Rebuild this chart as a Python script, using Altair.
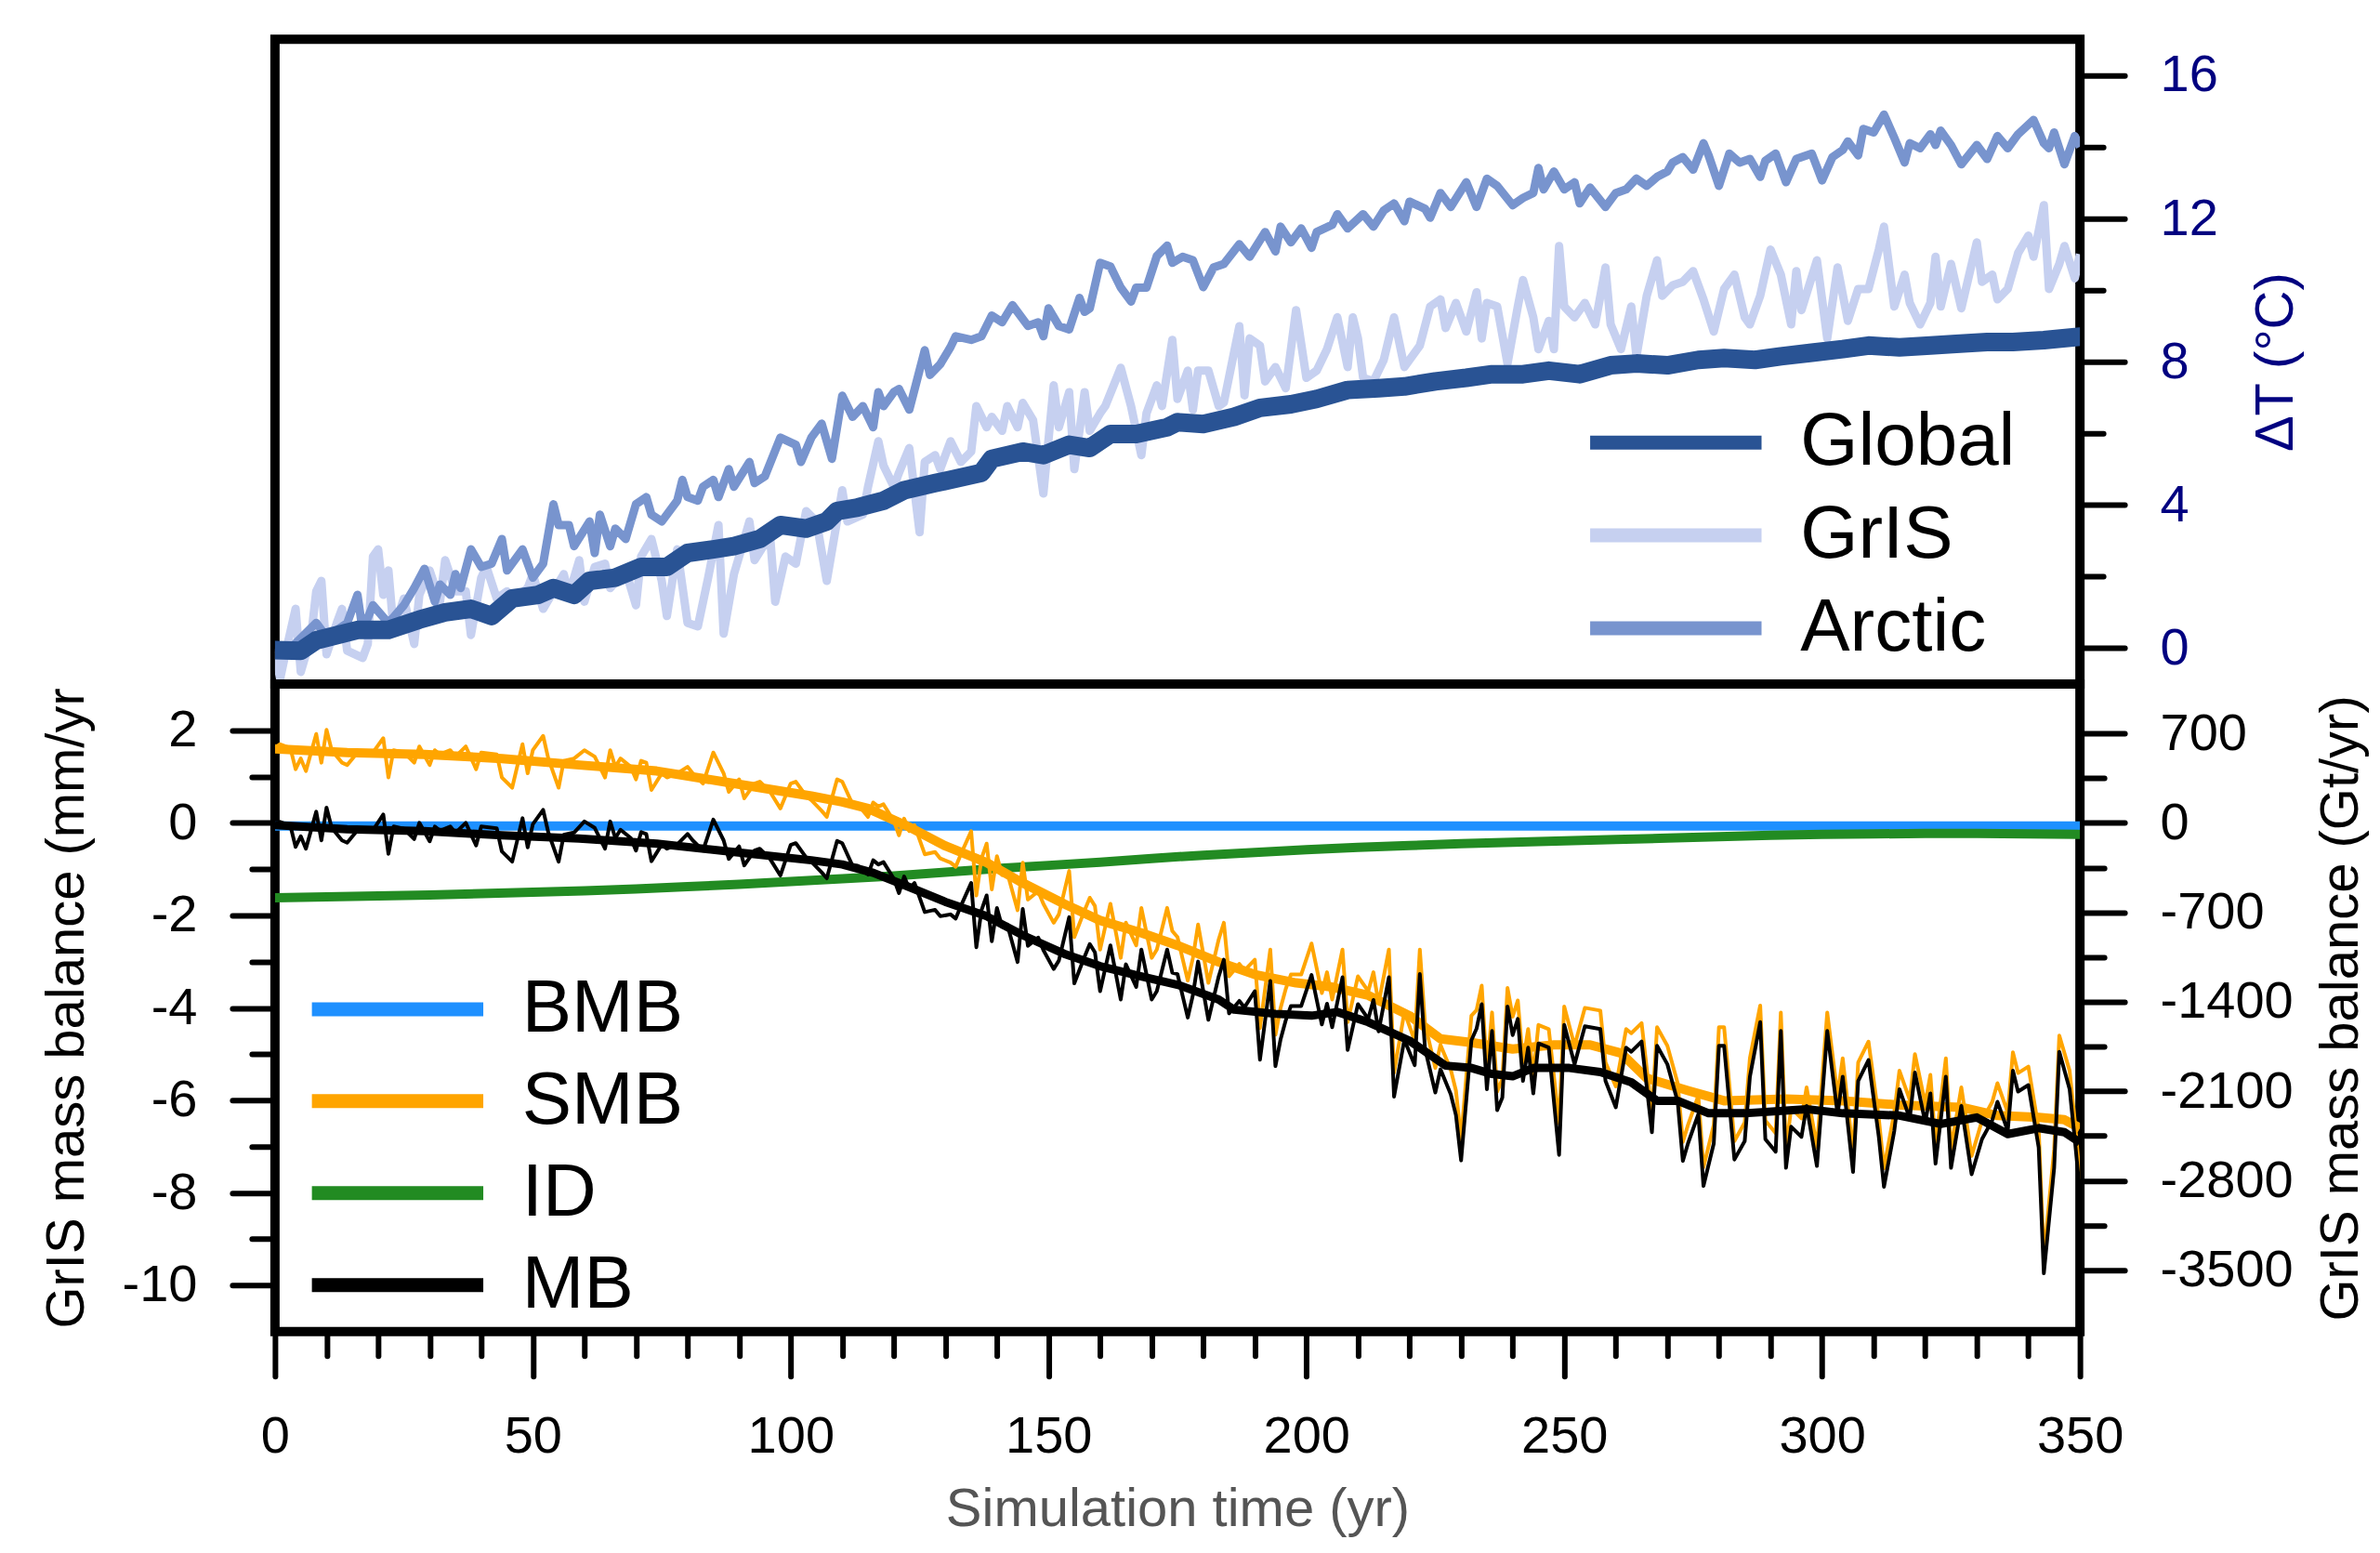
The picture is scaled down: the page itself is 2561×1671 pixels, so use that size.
import altair as alt
import pandas as pd

FONT = "Liberation Sans, Arial, Helvetica, sans-serif"

# ---------------- top panel: temperature anomalies (deg C) ----------------
global_years = [0, 5, 8, 16, 22, 28, 33, 38, 42, 46, 51, 54, 58, 61, 66, 71, 76, 80, 85, 89,
                94, 98, 103, 107, 109, 113, 118, 122, 128, 134, 137, 139, 145, 149, 154, 158,
                162, 167, 173, 175, 180, 186, 191, 197, 202, 208, 214, 219, 225, 231, 236, 242,
                247, 253, 259, 264, 270, 276, 281, 287, 292, 298, 304, 309, 315, 321, 326, 332,
                337, 343, 350]
global_vals = [-0.05, -0.07, 0.22, 0.51, 0.51, 0.8, 1.0, 1.1, 0.9, 1.39, 1.49, 1.68, 1.49, 1.88,
               1.97, 2.27, 2.27, 2.66, 2.76, 2.85, 3.05, 3.44, 3.34, 3.54, 3.83, 3.93, 4.12, 4.41,
               4.61, 4.8, 4.9, 5.29, 5.49, 5.39, 5.68, 5.59, 5.98, 5.98, 6.17, 6.31, 6.26, 6.46,
               6.71, 6.81, 6.96, 7.21, 7.26, 7.31, 7.45, 7.55, 7.65, 7.65, 7.75, 7.65, 7.9, 7.95,
               7.9, 8.05, 8.1, 8.05, 8.15, 8.25, 8.35, 8.45, 8.4, 8.45, 8.5, 8.55, 8.55, 8.6, 8.7]

gris_years = [0, 1, 2, 4, 5, 7, 8, 9, 10, 12, 13, 14, 17, 18, 19, 20, 21, 22, 23, 25, 27, 28, 30,
              32, 33, 35, 37, 38, 40, 41, 43, 45, 46, 49, 50, 52, 54, 56, 57, 59, 60, 62, 64, 65,
              68, 70, 71, 73, 75, 76, 78, 80, 82, 84, 86, 87, 89, 91, 92, 93, 96, 97, 99, 101,
              103, 105, 107, 110, 111, 114, 115, 117, 118, 120, 121, 123, 125, 126, 128, 129,
              131, 133, 135, 136, 138, 139, 141, 142, 144, 145, 147, 149, 151, 152, 154, 155,
              157, 158, 160, 161, 164, 166, 168, 169, 171, 172, 174, 175, 177, 178, 179, 181,
              183, 184, 187, 188, 189, 191, 192, 194, 196, 198, 200, 202, 204, 206, 208, 209,
              210, 211, 213, 215, 217, 219, 222, 224, 226, 227, 229, 231, 233, 234, 235, 237,
              239, 241, 242, 244, 245, 247, 248, 249, 250, 252, 254, 256, 258, 259, 261, 263,
              264, 266, 268, 269, 271, 273, 275, 277, 279, 281, 283, 285, 286, 288, 290, 292,
              294, 295, 296, 299, 301, 303, 305, 307, 309, 311, 312, 314, 316, 317, 319, 321,
              322, 323, 325, 327, 330, 331, 333, 334, 336, 338, 340, 341, 343, 344, 346, 347,
              349, 350]
gris_vals = [-0.1, -0.85, -0.17, 1.1, -0.66, 0.32, 1.59, 1.88, -0.17, 0.71, 1.1, -0.07, -0.27,
             0.12, 2.56, 2.76, 1.49, 2.17, 0.51, 1.39, 0.12, 1.49, 2.17, 1.3, 2.46, 1.59, 1.59,
             0.37, 1.97, 2.27, 1.39, 1.59, 1.3, 1.68, 2.07, 1.1, 1.59, 2.07, 1.49, 2.46, 1.3, 2.27,
             2.36, 1.68, 2.17, 1.2, 2.56, 3.05, 1.88, 0.9, 2.76, 0.71, 0.61, 1.97, 3.44, 0.41,
             2.07, 3.05, 3.54, 2.46, 3.15, 1.3, 2.56, 2.36, 3.83, 3.54, 1.88, 4.41, 3.54, 3.73,
             4.51, 5.78, 5.1, 4.51, 4.9, 5.59, 3.24, 5.2, 5.39, 5.0, 5.78, 5.2, 5.49, 6.76, 6.17,
             6.46, 6.07, 6.76, 6.17, 6.85, 6.37, 4.32, 7.34, 6.17, 7.15, 5.0, 7.15, 6.07, 6.56,
             6.76, 7.83, 6.76, 5.39, 6.56, 7.34, 6.76, 8.61, 6.96, 7.75, 6.66, 7.75, 7.75, 6.76,
             6.86, 8.99, 7.06, 8.65, 8.45, 7.45, 7.85, 7.26, 9.44, 7.55, 7.75, 8.35, 9.24, 7.85,
             9.24, 8.65, 7.55, 7.45, 8.05, 9.24, 7.85, 8.45, 9.54, 9.74, 8.94, 9.64, 8.84, 9.94,
             8.65, 9.64, 9.54, 7.95, 9.54, 10.28, 9.24, 8.35, 9.14, 8.35, 11.23, 9.54, 9.24, 9.64,
             9.04, 10.63, 9.04, 8.35, 9.54, 8.15, 9.84, 10.83, 9.84, 10.13, 10.23, 10.53, 9.74,
             8.84, 10.03, 10.43, 9.24, 9.04, 9.84, 11.13, 10.43, 9.04, 10.53, 9.44, 10.83, 8.65,
             10.63, 9.14, 10.03, 10.03, 11.13, 11.77, 9.54, 10.43, 9.64, 9.04, 9.64, 10.93, 9.54,
             10.73, 9.49, 11.33, 10.23, 10.43, 9.74, 10.03, 11.03, 11.52, 10.93, 12.37, 10.03,
             10.73, 11.23, 10.33, 11.0]

arctic_years = [0, 2, 8, 10, 14, 16, 17, 19, 22, 25, 27, 29, 31, 32, 34, 35, 36, 38, 40, 42, 44,
                45, 48, 50, 52, 54, 55, 57, 58, 61, 62, 63, 65, 66, 68, 70, 72, 73, 75, 78, 79,
                80, 82, 83, 85, 86, 88, 89, 92, 93, 95, 98, 101, 102, 104, 106, 108, 110, 112,
                114, 116, 117, 118, 120, 121, 123, 126, 127, 129, 131, 132, 135, 137, 139, 141,
                143, 146, 148, 149, 150, 152, 154, 156, 157, 158, 160, 162, 164, 166, 167, 169,
                171, 173, 174, 176, 178, 180, 182, 184, 187, 189, 192, 194, 195, 197, 199, 201,
                202, 205, 206, 208, 211, 213, 215, 217, 219, 220, 223, 224, 226, 228, 231, 233,
                235, 237, 240, 242, 244, 245, 246, 248, 250, 252, 253, 255, 258, 260, 262, 264,
                266, 268, 270, 271, 273, 275, 277, 278, 280, 282, 284, 286, 288, 289, 291, 293,
                295, 298, 300, 302, 304, 305, 307, 308, 310, 312, 314, 316, 317, 319, 321, 322,
                323, 325, 327, 330, 332, 334, 336, 338, 341, 343, 344, 345, 347, 349, 350]
arctic_vals = [0.0, -0.15, 0.71, 0.32, 0.7, 1.49, 0.5, 1.2, 0.7, 1.2, 1.68, 2.22, 1.3, 1.78, 1.49,
               2.07, 1.68, 2.76, 2.27, 2.36, 3.05, 2.17, 2.76, 1.97, 2.36, 4.02, 3.44, 3.44, 2.85,
               3.54, 2.66, 3.73, 2.85, 3.34, 3.05, 4.02, 4.22, 3.73, 3.54, 4.12, 4.7, 4.22, 4.12,
               4.51, 4.7, 4.22, 5.0, 4.51, 5.2, 4.61, 4.8, 5.88, 5.68, 5.2, 5.88, 6.27, 5.29, 7.05,
               6.46, 6.76, 6.17, 7.15, 6.76, 7.15, 7.24, 6.66, 8.32, 7.63, 7.93, 8.41, 8.71, 8.61,
               8.71, 9.29, 9.1, 9.58, 9.0, 9.1, 8.71, 9.49, 9.0, 8.9, 9.78, 9.39, 9.49, 10.76,
               10.66, 10.07, 9.68, 10.07, 10.07, 10.95, 11.24, 10.76, 10.93, 10.83, 10.08, 10.63,
               10.73, 11.28, 10.93, 11.62, 11.08, 11.77, 11.33, 11.72, 11.18, 11.62, 11.82, 12.12,
               11.72, 12.12, 11.77, 12.22, 12.42, 11.92, 12.47, 12.27, 12.02, 12.71, 12.32, 13.01,
               12.32, 13.11, 12.91, 12.37, 12.57, 12.71, 13.41, 12.81, 13.31, 12.81, 13.01, 12.42,
               12.86, 12.32, 12.71, 12.81, 13.11, 12.91, 13.16, 13.31, 13.56, 13.71, 13.36, 14.1,
               13.76, 12.91, 13.81, 13.56, 13.66, 13.16, 13.61, 13.81, 13.01, 13.66, 13.81, 13.06,
               13.71, 13.91, 14.15, 13.76, 14.5, 14.4, 14.9, 14.25, 13.56, 14.1, 13.96, 14.35,
               14.05, 14.45, 14.05, 13.51, 14.05, 13.66, 14.3, 13.96, 14.35, 14.75, 14.1, 13.96,
               14.4, 13.51, 14.3, 14.0]

# ---------------- bottom panel: mass balance (mm/yr) ----------------
bmb_years = [0, 50, 100, 150, 200, 250, 300, 350]
bmb_vals = [-0.07, -0.07, -0.07, -0.07, -0.07, -0.07, -0.07, -0.07]

id_years = [0, 10, 20, 30, 40, 50, 60, 70, 80, 90, 100, 110, 120, 130, 140, 150, 160, 170, 180,
            190, 200, 210, 220, 230, 240, 250, 260, 270, 280, 290, 300, 310, 320, 330, 340, 350]
id_vals = [-1.62, -1.6, -1.58, -1.56, -1.53, -1.5, -1.47, -1.43, -1.38, -1.33, -1.27, -1.21,
           -1.15, -1.07, -0.99, -0.92, -0.85, -0.77, -0.7, -0.64, -0.58, -0.53, -0.49, -0.45,
           -0.42, -0.39, -0.36, -0.33, -0.3, -0.27, -0.25, -0.24, -0.23, -0.23, -0.24, -0.25]

smb_years = [0, 14, 29, 44, 59, 74, 89, 104, 110, 115, 123, 130, 138, 145, 153, 160, 168, 175,
             183, 190, 198, 205, 212, 220, 226, 232, 240, 248, 255, 261, 266, 274, 281, 293, 304,
             315, 327, 334, 342, 347, 350]
smb_vals = [1.6, 1.52, 1.48, 1.39, 1.25, 1.12, 0.85, 0.58, 0.45, 0.31, -0.09, -0.5, -0.86, -1.3,
            -1.75, -2.11, -2.38, -2.65, -3.01, -3.28, -3.46, -3.55, -3.73, -4.17, -4.67, -4.75,
            -4.89, -4.8, -4.8, -4.98, -5.52, -5.79, -6.01, -5.97, -6.01, -6.1, -6.15, -6.33,
            -6.37, -6.42, -6.6]

mb_years = [0, 14, 29, 44, 59, 74, 89, 104, 110, 116, 123, 130, 138, 145, 153, 160, 168, 175,
            183, 186, 194, 201, 206, 212, 220, 227, 232, 236, 240, 244, 251, 257, 263, 268, 272,
            278, 285, 297, 304, 315, 323, 330, 336, 342, 347, 350]
mb_vals = [-0.05, -0.14, -0.18, -0.27, -0.34, -0.45, -0.63, -0.81, -0.9, -1.08, -1.39, -1.71,
           -2.02, -2.43, -2.83, -3.1, -3.32, -3.5, -3.82, -4.04, -4.13, -4.17, -4.09, -4.31,
           -4.71, -5.25, -5.3, -5.43, -5.48, -5.3, -5.3, -5.39, -5.61, -6.01, -6.01, -6.28,
           -6.28, -6.19, -6.28, -6.33, -6.51, -6.37, -6.73, -6.6, -6.69, -6.91]

ann_years = [0, 1, 3, 4, 5, 6, 8, 9, 10, 11, 13, 14, 16, 19, 21, 22, 23, 25, 27, 28, 30, 31, 32,
             34, 35, 37, 39, 40, 43, 44, 46, 48, 49, 50, 52, 53, 55, 56, 58, 60, 62, 64, 65, 66,
             67, 69, 70, 71, 72, 73, 75, 76, 78, 80, 81, 83, 85, 87, 88, 90, 91, 93, 94, 96, 98,
             100, 101, 103, 104, 106, 107, 109, 110, 112, 113, 115, 116, 117, 118, 120, 121, 122,
             123, 124, 126, 128, 129, 131, 132, 133, 135, 136, 137, 138, 139, 140, 141, 142, 144,
             145, 146, 148, 149, 151, 152, 154, 155, 157, 158, 159, 160, 162, 164, 165, 167, 168,
             170, 171, 173, 174, 175, 177, 178, 179, 181, 183, 184, 185, 187, 188, 190, 191, 193,
             194, 195, 196, 197, 199, 201, 203, 204, 205, 207, 208, 210, 212, 213, 214, 216, 217,
             219, 221, 222, 223, 225, 226, 228, 229, 230, 232, 233, 234, 235, 236, 237, 238, 239,
             240, 241, 242, 243, 244, 245, 247, 249, 250, 252, 254, 257, 258, 260, 262, 263, 265,
             267, 268, 270, 272, 273, 274, 276, 277, 279, 280, 281, 283, 285, 286, 288, 289, 291,
             292, 293, 294, 296, 297, 299, 301, 303, 304, 306, 307, 309, 311, 312, 314, 315, 317,
             318, 320, 321, 322, 324, 325, 327, 329, 331, 333, 334, 336, 337, 338, 340, 342, 343,
             345, 346, 348, 349, 350]
smb_ann_vals = [1.62, 1.70, 1.61, 1.16, 1.39, 1.12, 1.92, 1.30, 2.01, 1.57, 1.30, 1.25, 1.52, 1.52,
                1.83, 0.98, 1.57, 1.52, 1.30, 1.65, 1.25, 1.57, 1.48, 1.57, 1.43, 1.65, 1.16, 1.52,
                1.48, 0.98, 0.76, 1.70, 1.07, 1.57, 1.88, 1.39, 0.76, 1.34, 1.39, 1.57, 1.43, 0.98,
                1.57, 1.21, 1.39, 1.21, 0.94, 1.34, 1.30, 0.71, 1.07, 0.98, 1.07, 1.21, 1.07, 0.85,
                1.52, 1.07, 0.67, 0.94, 0.53, 0.85, 0.89, 0.67, 0.31, 0.85, 0.89, 0.58, 0.49, 0.26,
                0.13, 0.94, 0.89, 0.40, 0.40, 0.13, 0.44, 0.35, 0.40, 0.04, -0.27, 0.09, -0.18,
                -0.05, -0.68, -0.63, -0.77, -0.86, -0.95, -0.68, -0.18, -1.57, -0.77, -0.45, -1.44,
                -0.72, -1.13, -1.08, -1.89, -0.86, -1.66, -1.48, -1.75, -2.16, -1.98, -1.04, -2.47,
                -1.89, -1.62, -1.80, -2.74, -1.75, -2.92, -2.16, -2.65, -1.84, -2.92, -2.74, -1.84,
                -2.34, -2.47, -3.41, -2.92, -2.20, -3.46, -2.52, -2.16, -3.32, -3.05, -3.19, -2.96,
                -4.44, -2.74, -4.58, -4.00, -3.59, -3.28, -3.28, -2.61, -3.68, -3.23, -3.82, -2.74,
                -4.31, -3.32, -3.64, -3.23, -3.91, -2.74, -5.40, -4.09, -4.71, -2.74, -4.35, -5.30,
                -4.80, -5.34, -5.79, -6.85, -4.17, -4.05, -3.52, -5.36, -4.10, -5.81, -5.54, -3.57,
                -4.19, -3.84, -5.18, -4.46, -5.45, -4.37, -4.46, -6.50, -3.97, -4.82, -4.00, -4.06,
                -5.18, -5.70, -4.46, -4.55, -4.33, -6.30, -4.42, -4.82, -5.63, -6.90, -6.53, -5.90,
                -7.45, -6.53, -4.42, -4.42, -6.88, -6.48, -5.09, -3.95, -6.44, -6.71, -4.10, -7.06,
                -6.17, -6.39, -5.72, -7.02, -4.10, -5.90, -5.09, -7.15, -5.18, -4.73, -6.39, -7.47,
                -6.26, -5.36, -5.99, -5.00, -6.08, -5.45, -6.97, -5.09, -7.06, -5.72, -7.20, -6.44,
                -6.03, -5.63, -6.26, -4.96, -5.41, -5.27, -6.62, -9.40, -7.06, -4.60, -5.36, -6.44,
                -7.70]
mb_ann_vals = [-0.05, 0.02, -0.07, -0.52, -0.29, -0.56, 0.24, -0.38, 0.33, -0.11, -0.38, -0.43,
               -0.16, -0.16, 0.18, -0.67, -0.08, -0.13, -0.35, 0.00, -0.40, -0.08, -0.17, -0.08,
               -0.22, 0.00, -0.49, -0.08, -0.12, -0.62, -0.84, 0.10, -0.53, -0.03, 0.28, -0.21,
               -0.84, -0.26, -0.21, 0.03, -0.11, -0.56, 0.03, -0.33, -0.15, -0.33, -0.60, -0.20,
               -0.24, -0.83, -0.47, -0.56, -0.47, -0.24, -0.38, -0.60, 0.07, -0.38, -0.78, -0.51,
               -0.92, -0.60, -0.56, -0.78, -1.14, -0.48, -0.44, -0.75, -0.84, -1.07, -1.20, -0.39,
               -0.44, -0.93, -0.93, -1.12, -0.81, -0.90, -0.85, -1.21, -1.52, -1.16, -1.43, -1.30,
               -1.93, -1.88, -2.02, -1.98, -2.07, -1.80, -1.30, -2.69, -1.89, -1.57, -2.56, -1.84,
               -2.25, -2.20, -3.01, -1.86, -2.66, -2.48, -2.75, -3.16, -2.98, -2.04, -3.47, -2.89,
               -2.62, -2.80, -3.64, -2.65, -3.82, -3.06, -3.55, -2.74, -3.82, -3.64, -2.74, -3.24,
               -3.27, -4.21, -3.72, -3.00, -4.26, -3.32, -2.96, -4.12, -3.85, -3.99, -3.64, -5.12,
               -3.42, -5.26, -4.68, -4.27, -3.96, -3.96, -3.29, -4.36, -3.91, -4.42, -3.34, -4.91,
               -3.92, -4.24, -3.83, -4.51, -3.34, -5.92, -4.69, -5.24, -3.27, -4.88, -5.83, -5.33,
               -5.87, -6.32, -7.30, -4.70, -4.45, -3.92, -5.76, -4.50, -6.21, -5.94, -3.97, -4.59,
               -4.24, -5.58, -4.86, -5.85, -4.77, -4.86, -7.18, -4.37, -5.22, -4.40, -4.46, -5.58,
               -6.15, -4.86, -4.95, -4.73, -6.69, -4.82, -5.22, -6.03, -7.31, -6.93, -6.30, -7.85,
               -6.93, -4.82, -4.82, -7.28, -6.88, -5.49, -4.31, -6.84, -7.11, -4.50, -7.46, -6.57,
               -6.79, -6.12, -7.42, -4.50, -6.30, -5.49, -7.55, -5.58, -5.13, -6.79, -7.87, -6.66,
               -5.76, -6.39, -5.40, -6.48, -5.85, -7.37, -5.49, -7.46, -6.12, -7.60, -6.84, -6.43,
               -6.03, -6.66, -5.36, -5.81, -5.67, -7.02, -9.74, -7.46, -4.95, -5.76, -6.84, -8.00]

top_names = ["Global", "GrIS", "Arctic"]
top_colors = ["#295394", "#c6d0f0", "#7894ce"]
bot_names = ["BMB", "SMB", "ID", "MB"]
bot_colors = ["#1e90ff", "#ffa500", "#228b22", "#000000"]
GT_PER_MM = 361.8

W = 1943
H_TOP = 694
H_BOT = 697


def frame(years, vals, name):
    return pd.DataFrame({"yr": years, "v": vals, "s": name})


top_df = pd.concat([frame(gris_years, gris_vals, "GrIS"),
                    frame(arctic_years, arctic_vals, "Arctic"),
                    frame(global_years, global_vals, "Global")], ignore_index=True)

bot_df = pd.concat([frame(bmb_years, bmb_vals, "BMB"),
                    frame(id_years, id_vals, "ID"),
                    frame(ann_years, smb_ann_vals, "SMB_ann"),
                    frame(smb_years, smb_vals, "SMB"),
                    frame(ann_years, mb_ann_vals, "MB_ann"),
                    frame(mb_years, mb_vals, "MB")], ignore_index=True)

xscale = alt.Scale(domain=[0, 350], nice=False, zero=False)

def legend(x, y, rowpad):
    return alt.Legend(title=None, orient="none", legendX=x, legendY=y,
                      symbolType="M-4.1,0L4.1,0", symbolSize=2025, symbolStrokeWidth=15,
                      labelFontSize=80, labelFont=FONT, labelColor="black", labelOffset=94,
                      rowPadding=rowpad, labelLimit=0, padding=0, symbolOffset=0)

# ---- top ----
x_top = alt.X("yr:Q", scale=xscale, axis=None)
y_top = alt.Y("v:Q", scale=alt.Scale(domain=[-1, 17], nice=False, zero=False),
              axis=alt.Axis(orient="right", values=[0, 2, 4, 6, 8, 10, 12, 14, 16],
                            labelExpr="datum.value % 4 === 0 ? '' + datum.value : ''",
                            tickSize={"condition": {"test": "datum.value % 4 === 0", "value": 48}, "value": 25},
                            labelPadding=38, labelColor="#000080", labelFontSize=56,
                            title="ΔT (°C)", titleColor="#000080", titleAngle=270,
                            titleBaseline="top", titlePadding=34, titleFontSize=58))
c_top = alt.Color("s:N", scale=alt.Scale(domain=top_names, range=top_colors),
                  legend=legend(1468, 394, 20))

base_top = alt.Chart(top_df).encode(x=x_top, y=y_top, color=c_top)
top = alt.layer(
    base_top.transform_filter(alt.datum.s == "GrIS").mark_line(strokeWidth=9, strokeJoin="round", clip=True),
    base_top.transform_filter(alt.datum.s == "Arctic").mark_line(strokeWidth=9, strokeJoin="round", clip=True),
    base_top.transform_filter(alt.datum.s == "Global").mark_line(strokeWidth=20, strokeJoin="round", strokeCap="round", clip=True),
).properties(width=W, height=H_TOP)

# ---- bottom ----
x_bot = alt.X("yr:Q", scale=xscale,
              axis=alt.Axis(values=list(range(0, 351, 10)),
                            labelExpr="datum.value % 50 === 0 ? '' + datum.value : ''",
                            tickSize={"condition": {"test": "datum.value % 50 === 0", "value": 48}, "value": 26},
                            labelPadding=38, labelFontSize=56, labelFlush=False, labelOverlap=False,
                            title="Simulation time (yr)", titleColor="#555555", titleFontSize=58,
                            titlePadding=22))
y_bot = alt.Y("v:Q", scale=alt.Scale(domain=[-11, 3], nice=False, zero=False),
              axis=alt.Axis(orient="left", values=list(range(-10, 3)),
                            labelExpr="datum.value % 2 === 0 ? '' + datum.value : ''",
                            tickSize={"condition": {"test": "datum.value % 2 === 0", "value": 46}, "value": 25},
                            labelPadding=38, labelFontSize=56, labelOverlap=False,
                            title="GrIS mass balance (mm/yr", titleFontSize=58, titlePadding=30))
c_bot = alt.Color("s:N", scale=alt.Scale(domain=bot_names, range=bot_colors),
                  legend=legend(92, 310, 19))

base_bot = alt.Chart(bot_df).encode(x=x_bot, y=y_bot)

def series(name):
    return base_bot.transform_filter(alt.datum.s == name)

data_layers = alt.layer(
    series("BMB").mark_line(strokeWidth=10, clip=True).encode(color=c_bot),
    series("ID").mark_line(strokeWidth=10, clip=True).encode(color=c_bot),
    series("SMB_ann").mark_line(strokeWidth=4, clip=True, strokeJoin="round").encode(color=alt.value("#ffa500")),
    series("SMB").mark_line(strokeWidth=10, clip=True, strokeJoin="round").encode(color=c_bot),
    series("MB_ann").mark_line(strokeWidth=4, clip=True, strokeJoin="round").encode(color=alt.value("#000000")),
    series("MB").mark_line(strokeWidth=9, clip=True, strokeJoin="round").encode(color=c_bot),
)

gt_layer = alt.Chart(pd.DataFrame({"gt": [0.0]})).mark_point(opacity=0).encode(
    y=alt.Y("gt:Q",
            scale=alt.Scale(domain=[-11 * GT_PER_MM, 3 * GT_PER_MM], nice=False, zero=False),
            axis=alt.Axis(orient="right", values=list(range(-3500, 701, 350)),
                          labelExpr="datum.value % 700 === 0 ? '' + datum.value : ''",
                          tickSize={"condition": {"test": "datum.value % 700 === 0", "value": 48}, "value": 26},
                          labelPadding=38, labelFontSize=56, labelOverlap=False,
                          title="GrIS mass balance (Gt/yr)", titleAngle=270, titleBaseline="top",
                          titleFontSize=58, titlePadding=52))
)

bottom = alt.layer(data_layers, gt_layer).resolve_scale(y="independent").properties(width=W, height=H_BOT)

chart = alt.vconcat(top, bottom, spacing=0, bounds="flush").resolve_scale(
    x="independent", y="independent", color="independent"
).properties(
    padding={"left": 30, "top": 29, "right": 0, "bottom": 5}, background="white"
).configure_view(
    stroke="black", strokeWidth=10
).configure_axis(
    domain=False, grid=False, tickColor="black", tickWidth=6, tickCap="round",
    labelFont=FONT, titleFont=FONT, labelColor="black", titleColor="black",
    titleFontWeight="normal"
)

chart.save("out.html", embed_options={"renderer": "svg", "actions": False})
